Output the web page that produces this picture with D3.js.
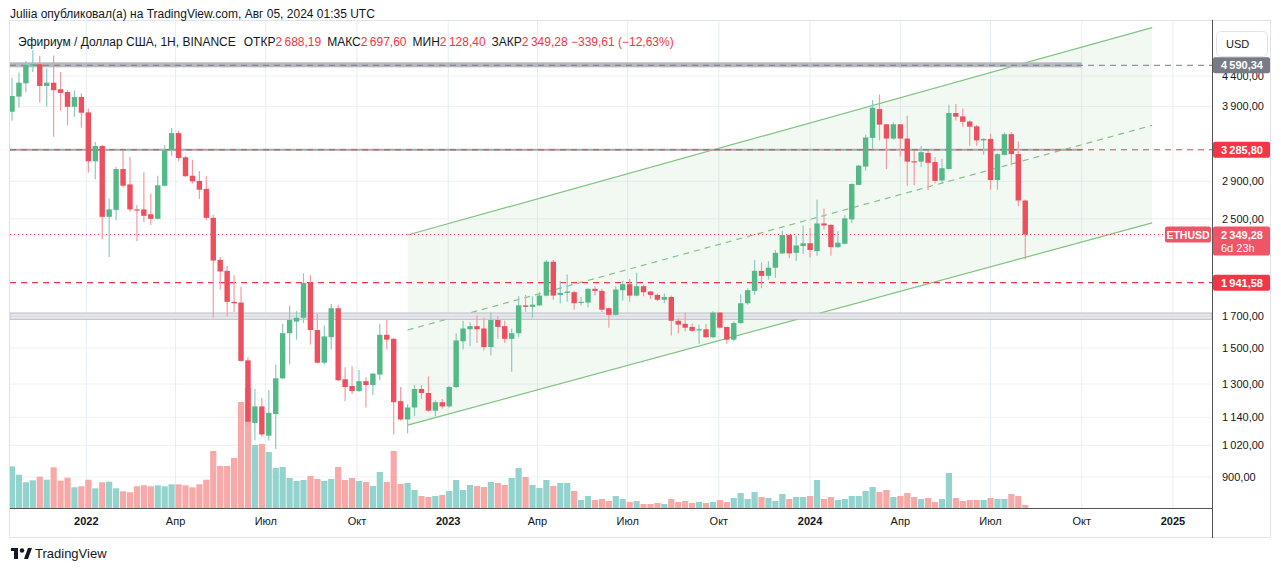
<!DOCTYPE html>
<html><head><meta charset="utf-8">
<script src="https://cdn.jsdelivr.net/npm/d3@7"></script>
<style>body{margin:0;background:#fff;font-family:"Liberation Sans",Arial,sans-serif}</style>
</head><body><svg id="c" width="1281" height="571"></svg>
<script>
const startDate = "2021-10-18";
const opens = [3820,4055,4275,4595,4610,4230,4285,4175,4130,3895,4050,3810,3140,3335,2520,2590,3045,2865,2595,2595,2545,2500,2850,3280,3510,3190,2965,2905,2815,2510,2125,2035,1800,1795,1428,1115,1190,1060,1155,1330,1590,1665,1690,1940,1610,1415,1565,1755,1325,1290,1265,1315,1295,1350,1580,1555,1215,1130,1185,1275,1255,1170,1210,1190,1285,1540,1615,1635,1620,1505,1675,1635,1555,1590,1775,1765,1775,1845,2110,1850,1865,1870,1795,1795,1895,1880,1755,1710,1885,1930,1845,1915,1875,1850,1815,1835,1670,1650,1630,1610,1615,1565,1725,1630,1550,1655,1790,1880,2035,1995,2060,2180,2345,2185,2245,2270,2200,2455,2440,2235,2265,2495,2860,3075,3445,3860,3635,3435,3635,3435,3140,3135,3245,3130,2910,3045,3800,3750,3675,3605,3410,3430,2915,3220,3495,3230,2688.19];
const highs = [4370,4460,4670,4870,4765,4535,4770,4470,4165,4155,4110,3870,3390,3350,2710,3070,3280,3195,2640,3005,2760,2965,3350,3580,3545,3205,3160,3020,2960,2540,2150,2075,2000,1910,1445,1275,1230,1270,1405,1650,1775,1735,2015,2000,1715,1640,1785,1780,1390,1395,1375,1335,1360,1650,1675,1560,1285,1200,1295,1295,1340,1220,1225,1290,1590,1670,1660,1705,1690,1725,1700,1670,1620,1840,1850,1840,1870,2125,2125,1955,2005,1880,1835,1900,1915,1895,1760,1915,1955,1970,2020,1925,1880,1860,1860,1845,1690,1725,1650,1645,1650,1735,1730,1630,1665,1855,1900,2125,2105,2115,2210,2385,2350,2335,2435,2410,2700,2605,2450,2380,2535,2875,3095,3490,4000,4090,3640,3660,3640,3760,3270,3335,3270,3190,3170,3925,3940,3870,3690,3625,3440,3500,3240,3520,3525,3395,2697.60];
const lows = [3685,3880,4125,4470,3960,3900,3460,3835,3620,3745,3585,3000,2925,2305,2150,2485,2830,2570,2290,2470,2440,2495,2840,3205,3140,2950,2875,2705,2485,1690,1890,1700,1730,1420,1100,1040,1055,1040,1005,1325,1405,1550,1655,1520,1410,1405,1490,1315,1215,1250,1260,1185,1245,1320,1490,1065,1125,1070,1145,1225,1165,1145,1180,1185,1280,1490,1510,1530,1485,1455,1555,1530,1365,1565,1730,1690,1770,1840,1815,1790,1800,1745,1775,1760,1845,1730,1625,1705,1810,1800,1840,1840,1820,1805,1790,1575,1590,1600,1600,1525,1560,1560,1620,1525,1540,1650,1780,1850,1900,1965,1980,2175,2140,2115,2175,2145,2160,2395,2160,2230,2260,2460,2855,3025,3290,3410,3045,3420,3200,2850,2855,3070,2800,2875,2885,3040,3690,3600,3340,3340,3225,2805,2805,3215,3090,2630,2128.40];
const closes = [4065,4285,4595,4610,4230,4285,4160,4115,3895,4050,3805,3140,3335,2520,2595,3045,2850,2595,2590,2530,2500,2855,3280,3510,3180,2960,2900,2805,2510,2120,2030,1800,1790,1425,1120,1190,1065,1160,1330,1590,1675,1690,1940,1610,1415,1570,1755,1320,1285,1265,1315,1295,1355,1580,1550,1210,1130,1185,1275,1255,1170,1210,1190,1285,1545,1620,1635,1615,1505,1675,1630,1555,1590,1775,1765,1780,1845,2110,1845,1865,1875,1790,1800,1895,1880,1745,1710,1890,1930,1845,1915,1870,1850,1815,1835,1670,1645,1625,1605,1615,1565,1725,1625,1550,1655,1790,1885,2035,1995,2060,2185,2345,2180,2250,2270,2210,2455,2435,2235,2275,2505,2870,3085,3450,3880,3630,3435,3635,3435,3135,3135,3255,3120,2905,3055,3800,3745,3670,3600,3410,3430,2915,3230,3495,3230,2688.19,2349.28];
const volumes = [41.7,33.3,25.7,27.7,31.3,28.3,40.7,27.3,30.3,20.7,21.7,28.3,19.7,25.7,26.3,19.7,16.7,15.7,21.7,22.7,21.7,22.7,21.7,23.7,23.7,22.7,20.7,23.7,28.3,57,42,42,50,106,120,63,64,56,40,41,30,27,28,32,29,27,29,41,28,30,27,26,22,36,26,57,24,25,18,12,11,12,13,17,28,18,23,22,21,26,25,23,30,40,31,23,20,28,22,25,25,17,8,12,8,9,7,12,9,6,7,4,4,5,4,9,6,7,5,6,5,6,8,6,10,15,9,16,11,10,7,14,9,11,11,12,28,9,11,8,9,12,12,17,21,16,18,11,12,15,11,9,10,6,9,35,10,7,8,8,8,10,9,9,14,12,3];
const priceTicks = [900,1020,1140,1300,1500,1700,2500,2900,3900,4400];
const monthTicks = [["2022-01-01","2022",true],["2022-04-01","Апр",false],["2022-07-01","Июл",false],["2022-10-01","Окт",false],["2023-01-01","2023",true],["2023-04-01","Апр",false],["2023-07-01","Июл",false],["2023-10-01","Окт",false],["2024-01-01","2024",true],["2024-04-01","Апр",false],["2024-07-01","Июл",false],["2024-10-01","Окт",false],["2025-01-01","2025",true]];
const channelLower = [["2022-11-21",1105],["2024-12-11",2460]];
const channelUpper = [["2022-11-21",2345],["2024-12-11",5330]];
const channelMid = [["2022-11-21",1610],["2024-12-11",3620]];
const athLevel = 4590.34, resLevel = 3285.80, supLevel = 1941.58, zoneLevels = [1680,1722];
const lastPrice = 2349.28;

const svg = d3.select("#c");
const day = 864e5;
const t0 = new Date(startDate+"T00:00:00Z");
const dates = opens.map((_,i)=>new Date(t0.getTime()+i*7*day));
const L=10, R=1212, T=20, B=508;
const pxW = 6.94;
const x = d3.scaleUtc().domain([t0, new Date(t0.getTime()+700*day)]).range([12, 12+100*pxW]);
const y = d3.scaleLog().domain([900,4400]).range([477,76]);
const vy = d3.scaleLinear().domain([0,120]).range([B, B-120]);
const pd = s=>new Date(s+"T00:00:00Z");
const loc = d3.formatLocale({decimal:",",thousands:"\u2009",grouping:[3]});
const fmt = loc.format(",.2f");
const up="#53b987", dn="#ee4f5f";

svg.append("defs").append("clipPath").attr("id","pc").append("rect").attr("x",L).attr("y",T).attr("width",R-L).attr("height",B-T);
svg.append("rect").attr("x",9.5).attr("y",20.5).attr("width",1261).attr("height",517).attr("fill","none").attr("stroke","#e0e3eb");
const g = svg.append("g").attr("clip-path","url(#pc)");
priceTicks.forEach(p=>g.append("line").attr("x1",L).attr("x2",R).attr("y1",y(p)).attr("y2",y(p)).attr("stroke","#eef1f5"));
monthTicks.forEach(m=>g.append("line").attr("x1",x(pd(m[0]))).attr("x2",x(pd(m[0]))).attr("y1",T).attr("y2",B).attr("stroke","#e6edf2"));
const cx = d=>x(pd(d[0])), cyy = d=>y(d[1]);
g.append("path").attr("d",`M${cx(channelUpper[0])},${cyy(channelUpper[0])}L${cx(channelUpper[1])},${cyy(channelUpper[1])}L${cx(channelLower[1])},${cyy(channelLower[1])}L${cx(channelLower[0])},${cyy(channelLower[0])}Z`).attr("fill","rgba(76,175,80,0.07)");
[channelUpper,channelLower].forEach(c=>g.append("line").attr("x1",cx(c[0])).attr("y1",cyy(c[0])).attr("x2",cx(c[1])).attr("y2",cyy(c[1])).attr("stroke","#7fc47f").attr("stroke-width",1.2));
g.append("line").attr("x1",cx(channelMid[0])).attr("y1",cyy(channelMid[0])).attr("x2",cx(channelMid[1])).attr("y2",cyy(channelMid[1])).attr("stroke","#7fc47f").attr("stroke-width",1.2).attr("stroke-dasharray","6,5");
g.append("rect").attr("x",L).attr("width",R-L).attr("y",y(zoneLevels[1])).attr("height",y(zoneLevels[0])-y(zoneLevels[1])).attr("fill","#e9eaee").attr("stroke","#b8bbc3");
g.append("line").attr("x1",L).attr("x2",R).attr("y1",(y(zoneLevels[0])+y(zoneLevels[1]))/2).attr("y2",(y(zoneLevels[0])+y(zoneLevels[1]))/2).attr("stroke","#d0d3da");
const xEnd = x(pd("2024-10-01"));
g.append("rect").attr("x",L).attr("width",xEnd-L).attr("y",y(athLevel)-3).attr("height",5).attr("fill","#b7b9bf");
g.append("line").attr("x1",L).attr("x2",R).attr("y1",y(athLevel)).attr("y2",y(athLevel)).attr("stroke","#787b86").attr("stroke-dasharray","6,5");
g.append("rect").attr("x",L).attr("width",xEnd-L).attr("y",y(resLevel)-1).attr("height",2).attr("fill","#a7a9b0");
g.append("line").attr("x1",L).attr("x2",R).attr("y1",y(resLevel)).attr("y2",y(resLevel)).attr("stroke","#d6454f").attr("stroke-dasharray","6,5");
g.append("line").attr("x1",L).attr("x2",R).attr("y1",y(supLevel)).attr("y2",y(supLevel)).attr("stroke","#f23645").attr("stroke-width",1.2).attr("stroke-dasharray","6,5");
g.append("line").attr("x1",L).attr("x2",R).attr("y1",y(lastPrice)).attr("y2",y(lastPrice)).attr("stroke","#f23645").attr("stroke-dasharray","1,3");
g.selectAll(".v").data(volumes).join("rect").attr("x",(d,i)=>x(dates[i])-3.1).attr("width",6.2).attr("y",d=>vy(d)).attr("height",d=>B-vy(d))
 .attr("fill",(d,i)=>closes[i]>=opens[i]?"#92d3cd":"#f7a9a8");
const cg = g.selectAll(".c").data(opens).join("g");
cg.append("line").attr("x1",(d,i)=>x(dates[i])).attr("x2",(d,i)=>x(dates[i])).attr("y1",(d,i)=>y(highs[i])).attr("y2",(d,i)=>y(lows[i]))
 .attr("stroke",(d,i)=>closes[i]>=opens[i]?"#8ec9c2":"#f59aa3").attr("stroke-width",1.2);
cg.append("rect").attr("x",(d,i)=>x(dates[i])-2.7).attr("width",5.4)
 .attr("y",(d,i)=>y(Math.max(opens[i],closes[i]))).attr("height",(d,i)=>Math.max(1.2,Math.abs(y(opens[i])-y(closes[i]))))
 .attr("fill",(d,i)=>closes[i]>=opens[i]?up:dn);
svg.append("line").attr("x1",L).attr("x2",R).attr("y1",B+0.5).attr("y2",B+0.5).attr("stroke","#555");
svg.append("line").attr("x1",R+0.5).attr("x2",R+0.5).attr("y1",T).attr("y2",538).attr("stroke","#555");
priceTicks.forEach(p=>svg.append("text").attr("x",1222).attr("y",y(p)+4).attr("font-size",11).attr("fill","#131722").text(fmt(p)));
function tag(p,bg,txt,h=16){const yy=y(p);svg.append("rect").attr("x",R+1).attr("y",yy-h/2).attr("width",57).attr("height",h).attr("rx",2).attr("fill",bg);
 svg.append("text").attr("x",1221).attr("y",yy+4).attr("font-size",11).attr("font-weight","bold").attr("fill","#fff").text(txt);}
tag(athLevel,"#787b86",fmt(athLevel));
tag(resLevel,"#f23645",fmt(resLevel));
tag(supLevel,"#f23645",fmt(supLevel));
{const yy=y(lastPrice);svg.append("rect").attr("x",R+1).attr("y",yy-8).attr("width",57).attr("height",29).attr("rx",2).attr("fill","#ee5566");
 svg.append("text").attr("x",1221).attr("y",yy+4).attr("font-size",11).attr("font-weight","bold").attr("fill","#fff").text(fmt(lastPrice));
 svg.append("text").attr("x",1221).attr("y",yy+17).attr("font-size",11).attr("fill","#fff").text("6d 23h");
 svg.append("rect").attr("x",1165).attr("y",yy-8).attr("width",46).attr("height",16).attr("rx",2).attr("fill","#ee5566");
 svg.append("text").attr("x",1188).attr("y",yy+4).attr("text-anchor","middle").attr("font-size",10.5).attr("font-weight","bold").attr("fill","#fff").text("ETHUSD");}
svg.append("rect").attr("x",1216.5).attr("y",31.5).attr("width",51).attr("height",25).attr("rx",4).attr("fill","#fff").attr("stroke","#e0e3eb");
svg.append("text").attr("x",1226).attr("y",48).attr("font-size",11).attr("fill","#131722").text("USD");
monthTicks.forEach(m=>svg.append("text").attr("x",x(pd(m[0]))).attr("y",525).attr("text-anchor","middle").attr("font-size",11)
 .attr("font-weight",m[2]?"bold":"normal").attr("fill","#131722").text(m[1]));
svg.append("text").attr("x",10).attr("y",18).attr("font-size",12).attr("fill","#131722").text("Juliia опубликовал(а) на TradingView.com, Авг 05, 2024 01:35 UTC");
const leg = svg.append("text").attr("x",18).attr("y",46).attr("font-size",12).attr("fill","#131722").attr("xml:space","preserve");
leg.append("tspan").text("Эфириум / Доллар США, 1Н, BINANCE");
[["ОТКР",fmt(2688.19)],["МАКС",fmt(2697.60)],["МИН",fmt(2128.40)],["ЗАКР",fmt(2349.28)+" −339,61 (−12,63%)"]].forEach((a,i)=>{
 leg.append("tspan").attr("dx",i===0?8:6).attr("fill","#131722").text(a[0]); leg.append("tspan").attr("fill","#f23645").text(a[1]);});
const lg = svg.append("g").attr("transform","translate(11,546)");
lg.append("rect").attr("x",0).attr("y",2).attr("width",7).attr("height",3).attr("fill","#131722");
lg.append("rect").attr("x",3).attr("y",2).attr("width",4).attr("height",11).attr("fill","#131722");
lg.append("circle").attr("cx",11).attr("cy",4.5).attr("r",2.2).attr("fill","#131722");
lg.append("path").attr("d","M13,13 L17,2 L21,2 L17,13Z").attr("fill","#131722");
svg.append("text").attr("x",35).attr("y",558).attr("font-size",13).attr("fill","#131722").text("TradingView");
</script></body></html>
